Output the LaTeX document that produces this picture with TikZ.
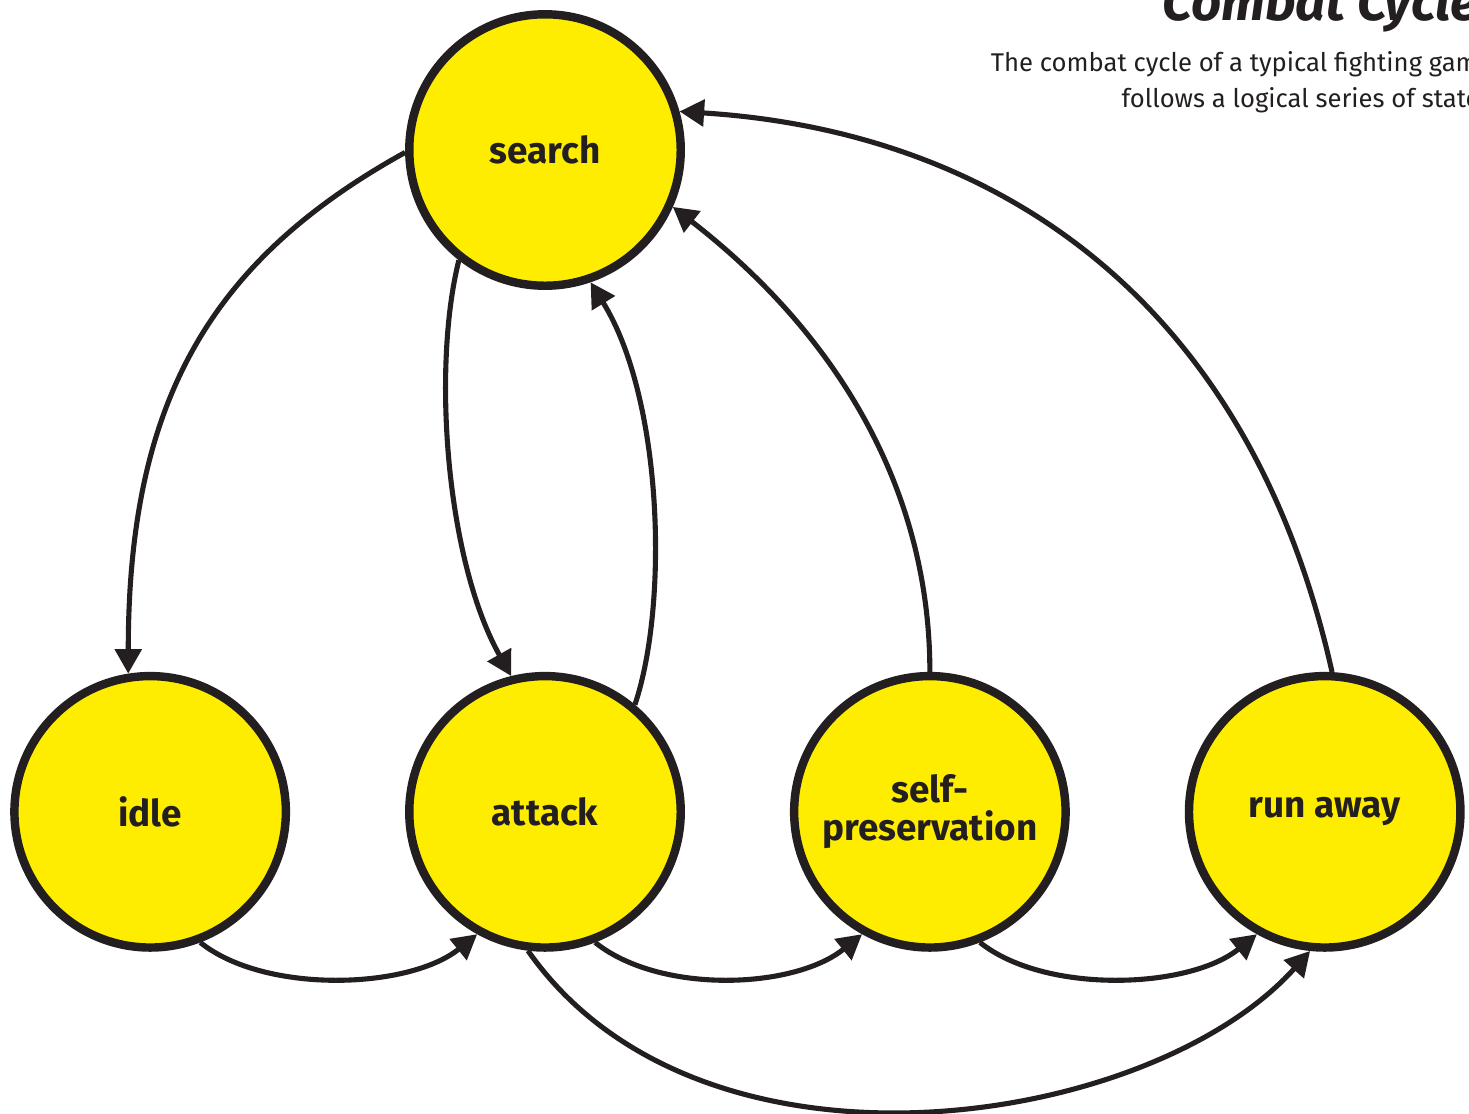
\documentclass[tikz,border=0pt]{standalone}
\usepackage{fontspec}
\setmainfont{Fira Sans}
\usetikzlibrary{positioning, arrows.meta}
\definecolor{ink}{HTML}{231F20}
\definecolor{stateyellow}{HTML}{FFED00}

\begin{document}
\begin{tikzpicture}[
    x=0.02cm, y=-0.02cm,
    state/.style={draw=ink, circle, line width=4.8pt, fill=stateyellow, minimum size=5.43cm, inner sep=0pt, align=center, text=ink, font=\bfseries\fontsize{21}{21.5}\selectfont},
    arr/.style={-{Triangle[length=14pt, width=15pt]}, line width=2.9pt, draw=ink}
]
    \useasboundingbox (0,0) rectangle (1469,1113);

    % heading
    \node[anchor=base west, inner sep=0pt, text=ink, font=\bfseries\itshape\fontsize{30}{30}\selectfont] (title) at (1162,20) {Combat Cycle};
    \node[anchor=north east, inner sep=0pt, align=right, text=ink, font=\fontsize{14.6}{20.5}\selectfont] (subtitle) at (1492,51) {The combat cycle of a typical fighting game\\follows a logical series of states};

    % states
    \node[state] (search) at (545,150) {search};
    \node[state] (attack) [below=7.64cm of search] {attack};
    \node[state] (idle) [left=2.3cm of attack] {idle};
    \node[state] (self) [right=2.1cm of attack] {self-\\preservation};
    \node[state] (runaway) [right=2.3cm of self] {run away};

    % transitions
    \draw[arr] (search.181) .. controls +(-195,108) and +(0,-272) .. (idle.99);
    \draw[arr] (search.232) .. controls +(-27,108) and +(-65,-116) .. (attack.104);
    \draw[arr] (attack.50) .. controls +(34,-102) and +(72,116) .. (search.289);
    \draw[arr] (self.90) .. controls +(0,-192) and +(155,120) .. (search.336);
    \draw[arr] (runaway.87) .. controls +(-83,-372) and +(318,20) .. (search.16);
    \draw[arr] (idle.291) .. controls +(65,52) and +(-68,55) .. (attack.241);
    \draw[arr] (attack.291) .. controls +(65,52) and +(-68,55) .. (self.241);
    \draw[arr] (self.291) .. controls +(65,52) and +(-68,55) .. (runaway.241);
    \draw[arr] (attack.263) .. controls +(173,247) and +(-160,178) .. (runaway.264);
\end{tikzpicture}
\end{document}
